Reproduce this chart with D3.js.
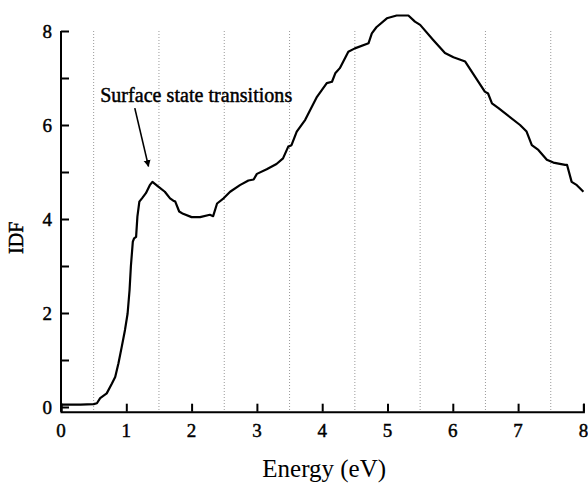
<!DOCTYPE html>
<html>
<head>
<meta charset="utf-8">
<script src="https://cdn.jsdelivr.net/npm/d3@7"></script>
<style>
  body { margin: 0; background: #fff; }
  text { font-family: "Liberation Serif", "Times New Roman", serif; fill: #000; }
  .heavy { stroke: #000; stroke-width: 0.45px; }
</style>
</head>
<body>
<main></main>
<script>
// values
const energy = [0, 0.3, 0.5, 0.55, 0.6, 0.7, 0.78, 0.83, 0.88, 0.93, 0.98, 1.02, 1.05, 1.07, 1.1, 1.12, 1.15,
  1.17, 1.2, 1.24, 1.3, 1.36, 1.4, 1.49, 1.59, 1.67, 1.72, 1.75, 1.81, 1.87, 2.0, 2.13, 2.28, 2.33, 2.39,
  2.49, 2.59, 2.74, 2.87, 2.95, 3.0, 3.15, 3.3, 3.4, 3.48, 3.53, 3.61, 3.74, 3.92, 4.07, 4.15, 4.2, 4.27,
  4.4, 4.5, 4.71, 4.76, 4.83, 4.99, 5.14, 5.32, 5.42, 5.5, 5.7, 5.88, 6.01, 6.19, 6.34, 6.49, 6.54, 6.6,
  6.7, 7.03, 7.13, 7.21, 7.31, 7.44, 7.54, 7.72, 7.75, 7.82, 7.9, 8.0];
const idf = [0.05, 0.05, 0.06, 0.08, 0.19, 0.29, 0.5, 0.64, 0.93, 1.28, 1.64, 1.99, 2.49, 2.99, 3.52, 3.59, 3.62,
  4.05, 4.37, 4.44, 4.55, 4.72, 4.79, 4.69, 4.58, 4.44, 4.39, 4.37, 4.16, 4.11, 4.04, 4.04, 4.09, 4.06, 4.33,
  4.44, 4.58, 4.72, 4.82, 4.84, 4.96, 5.06, 5.17, 5.29, 5.54, 5.57, 5.86, 6.11, 6.6, 6.89, 6.92, 7.1, 7.21,
  7.56, 7.63, 7.74, 7.95, 8.08, 8.27, 8.33, 8.33, 8.2, 8.13, 7.81, 7.53, 7.44, 7.35, 7.03, 6.71, 6.67, 6.46,
  6.36, 6.0, 5.86, 5.57, 5.47, 5.26, 5.2, 5.15, 5.15, 4.79, 4.72, 4.58];

const xTicks = [0, 1, 2, 3, 4, 5, 6, 7, 8];
const yTicks = [0, 2, 4, 6, 8];
const yMinor = [1, 3, 5, 7];
const gridAt = [0.5, 1.5, 2.5, 3.5, 4.5, 5.5, 6.5, 7.5];

const annotation = 'Surface state transitions';
const arrowFrom = [1.13, 6.36];
const arrowTo = [1.34, 5.12];
const labelAt = [0.6, 6.5];

const width = 588;
const height = 483;
const margin = { top: 31, right: 4.6, bottom: 71.3, left: 61 };

const x = d3.scaleLinear().domain([0, 8]).range([margin.left, width - margin.right]);
const y = d3.scaleLinear().domain([-0.1, 8]).range([height - margin.bottom, margin.top]);

const svg = d3.select('main').append('svg')
  .attr('width', width)
  .attr('height', height);

const defs = svg.append('defs');
defs.append('marker')
  .attr('id', 'head')
  .attr('viewBox', '0 0 10 10')
  .attr('refX', 9)
  .attr('refY', 5)
  .attr('markerWidth', 7)
  .attr('markerHeight', 8)
  .attr('markerUnits', 'userSpaceOnUse')
  .attr('orient', 'auto')
  .append('path')
  .attr('d', 'M0,0 L10,5 L0,10 z')
  .attr('fill', '#000');

// dotted verticals at half-integers
svg.append('g')
  .selectAll('line')
  .data(gridAt)
  .join('line')
  .attr('x1', d => x(d))
  .attr('x2', d => x(d))
  .attr('y1', y(8))
  .attr('y2', y(-0.1))
  .attr('stroke', '#999')
  .attr('stroke-width', 1)
  .attr('stroke-dasharray', '1,2');

// axes, ticks pointing inward
const xAxis = svg.append('g')
  .attr('transform', `translate(0,${y(-0.1)})`)
  .call(d3.axisTop(x).tickValues(xTicks).tickSize(8).tickFormat(''));
xAxis.select('.domain').attr('stroke-width', 2);
xAxis.selectAll('.tick line').attr('stroke-width', 2);

svg.append('g')
  .selectAll('text')
  .data(xTicks)
  .join('text')
  .attr('class', 'heavy')
  .attr('x', d => x(d))
  .attr('y', y(-0.1) + 25)
  .attr('text-anchor', 'middle')
  .attr('font-size', 19)
  .text(d => d);

const yAxis = svg.append('g')
  .attr('transform', `translate(${x(0)},0)`)
  .call(d3.axisRight(y).tickValues(yTicks.concat(yMinor)).tickSize(8).tickFormat(''));
yAxis.select('.domain').attr('stroke-width', 2).attr('d', `M0,${y(8)}V${y(-0.1)}`);
yAxis.selectAll('.tick line').attr('stroke-width', 2);

svg.append('g')
  .selectAll('text')
  .data(yTicks)
  .join('text')
  .attr('class', 'heavy')
  .attr('x', x(0) - 9)
  .attr('y', d => y(d))
  .attr('dy', '0.35em')
  .attr('text-anchor', 'end')
  .attr('font-size', 19)
  .text(d => d);

// the curve
const line = d3.line()
  .x((d, i) => x(energy[i]))
  .y(d => y(d));

svg.append('path')
  .datum(idf)
  .attr('fill', 'none')
  .attr('stroke', '#000')
  .attr('stroke-width', 2.2)
  .attr('stroke-linejoin', 'round')
  .attr('d', line);

// annotation
svg.append('text')
  .attr('class', 'heavy')
  .attr('x', x(labelAt[0]))
  .attr('y', y(labelAt[1]))
  .attr('font-size', 20)
  .attr('textLength', 192)
  .text(annotation);

svg.append('line')
  .attr('x1', x(arrowFrom[0]))
  .attr('y1', y(arrowFrom[1]))
  .attr('x2', x(arrowTo[0]))
  .attr('y2', y(arrowTo[1]))
  .attr('stroke', '#000')
  .attr('stroke-width', 1.6)
  .attr('marker-end', 'url(#head)');

// axis titles
svg.append('text')
  .attr('x', (x(0) + x(8)) / 2 + 2)
  .attr('y', 477)
  .attr('text-anchor', 'middle')
  .attr('font-size', 25)
  .text('Energy (eV)');

svg.append('text')
  .attr('class', 'heavy')
  .attr('transform', `translate(23,${y(3.6)}) rotate(-90)`)
  .attr('text-anchor', 'middle')
  .attr('font-size', 20)
  .text('IDF');
</script>
</body>
</html>
